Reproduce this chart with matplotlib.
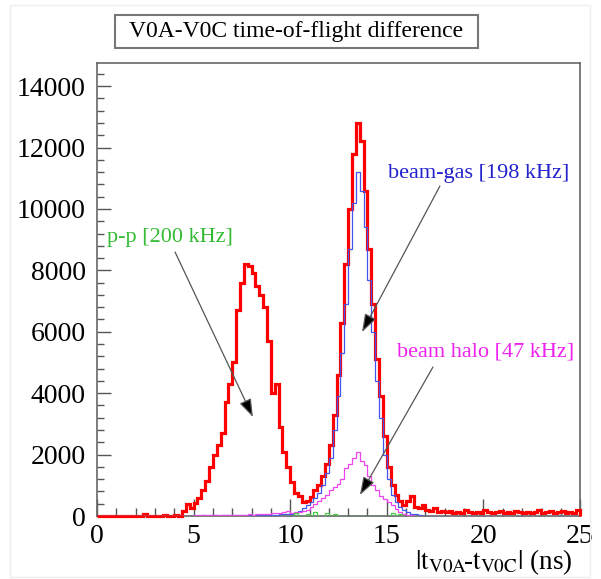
import numpy as np
import matplotlib
matplotlib.use('Agg')
import matplotlib.pyplot as plt
from matplotlib.patches import Rectangle
from matplotlib.ticker import MultipleLocator

plt.rcParams['font.family'] = ['Liberation Serif', 'DejaVu Serif']
plt.rcParams['mathtext.fontset'] = 'stix'

# histogram binning: 0..25 ns, 0.2 ns bins
bin_edges = np.arange(0, 25.01, 0.2)

# total (all events)
total = [0, 0, 0, 0, 0, 0, 0, 0, 0, 0, 0, 0, 80, 0, 0, 0, 0, 40, 0, 0,
         30, 0, 150, 380, 250, 420, 600, 840, 1150, 1600,
         2000, 2300, 2700, 3700, 4300, 5000, 6700, 7600, 8200, 8150,
         7900, 7500, 7200, 6800, 5700, 4000, 4300, 2900, 2100, 1600,
         1100, 750, 650, 450, 500, 620, 850, 1000, 1300, 1700,
         2300, 3300, 4600, 6300, 8200, 10000, 11800, 12800, 12200, 10600,
         8700, 6900, 5100, 3900, 2600, 1600, 1000, 700, 500, 350,
         500, 650, 300, 250, 350,
         200, 150, 250, 120, 150, 120, 160, 100, 130, 110, 180, 120, 100, 140, 110,
         200, 120, 100, 130, 150, 110, 120, 100, 170, 130, 110, 140, 100, 120, 180,
         110, 130, 160, 100, 120, 170, 110, 130, 100, 190]

# beam-gas
beam_gas = [0] * 25 + [15, 15, 20, 15, 20, 20, 15, 20, 20, 25,
                       20, 25, 25, 30, 25, 30, 30, 35, 35, 40,
                       40, 45, 50, 60, 70,
                       50, 100, 150, 250, 350, 450, 600, 750, 1000, 1400,
                       1900, 2800, 3900, 5300, 6900, 8700, 10200, 11200, 10600, 9400,
                       7700, 6000, 4400, 3200, 2000, 1200, 700, 450, 300, 200,
                       120, 80, 50, 30] + [0] * 41

# beam halo
beam_halo = [0] * 25 + [30, 25, 35, 30, 25, 35, 30, 40, 35, 30,
                        40, 35, 45, 40, 50, 45, 55, 60, 70, 80,
                        90, 100, 110, 130, 150,
                        100, 120, 140, 150, 200, 300, 400, 500, 600, 700,
                        850, 950, 1050, 1200, 1550, 1700, 1900, 2100, 1800, 1650,
                        1300, 1000, 850, 650, 550, 450, 350, 220, 120, 80,
                        40, 20, 10, 0] + [0] * 41

# p-p (tiny)
pp = [0] * 50 + [0, 100, 0, 0, 80, 0, 120, 0, 0, 100,
                 0, 80, 0, 0, 0, 0, 0, 0, 0, 0,
                 0, 0, 0, 0, 0, 0, 100, 0, 80, 0,
                 0, 0, 0, 0, 0] + [0] * 40

fig = plt.figure(figsize=(6.01, 5.79), dpi=100)
ax = fig.add_axes([0.1614, 0.1088, 0.8036, 0.7822])

ax.stairs(total, bin_edges, color='#ff0000', lw=2.3, zorder=3, clip_on=False)
ax.stairs(beam_gas, bin_edges, color='#4455ee', lw=0.9, zorder=3)
ax.stairs(beam_halo, bin_edges, color='#ee44ee', lw=0.9, zorder=3)
ax.stairs(pp, bin_edges, color='#44cc44', lw=0.9, zorder=3)

ax.set_xlim(0, 25)
ax.set_ylim(0, 14750)

ax.xaxis.set_major_locator(MultipleLocator(5))
ax.xaxis.set_minor_locator(MultipleLocator(1))
ax.yaxis.set_major_locator(MultipleLocator(2000))
ax.yaxis.set_minor_locator(MultipleLocator(400))
ax.tick_params(axis='both', which='both', direction='in', colors='#555555',
               labelcolor='black', labelsize=20)
ax.tick_params(axis='x', which='major', length=12, width=1, pad=6)
ax.tick_params(axis='x', which='minor', length=6, width=1)
ax.tick_params(axis='y', which='major', length=10, width=1, pad=8)
ax.tick_params(axis='y', which='minor', length=5, width=1)
for s in ax.spines.values():
    s.set_color('#666666')
    s.set_linewidth(1.2)

# x axis title
fig.text(572 / 601, 1 - 569 / 579,
         r'$|\mathrm{t}_{\mathrm{V0A}}\!$-$\mathrm{t}_{\mathrm{V0C}}|$ (ns)',
         ha='right', va='baseline', fontsize=19.5)

# title box
fig.patches.append(Rectangle((115 / 601, 1 - 48 / 579), 363 / 601, 33 / 579,
                             transform=fig.transFigure, fill=False,
                             ec='#777777', lw=1.5))
fig.text(296.5 / 601, 1 - 31.5 / 579, 'V0A-V0C time-of-flight difference',
         ha='center', va='center', fontsize=17)

# faint frame
fig.patches.append(Rectangle((10 / 601, 2 / 579), 580 / 601, 572 / 579,
                             transform=fig.transFigure, fill=False,
                             ec='#eeeeee', lw=1))

arrow = dict(arrowstyle='-|>,head_length=1.1,head_width=0.38', ec='#555555',
             fc='black', lw=0.9, shrinkA=0, shrinkB=0)

ax.text(0.52, 9085, 'p-p [200 kHz]', color='#33bb33', fontsize=16, va='center')
ax.annotate('', xy=(8.07, 3224), xytext=(4.04, 8597), arrowprops=arrow)

ax.text(15.06, 11169, 'beam-gas [198 kHz]', color='#2222cc', fontsize=16, va='center')
ax.annotate('', xy=(13.72, 5992), xytext=(17.75, 10746), arrowprops=arrow)

ax.text(15.53, 5340, 'beam halo [47 kHz]', color='#ee22ee', fontsize=16, va='center')
ax.annotate('', xy=(13.61, 684), xytext=(17.39, 4852), arrowprops=arrow)

fig.savefig('out.png', dpi=100)
